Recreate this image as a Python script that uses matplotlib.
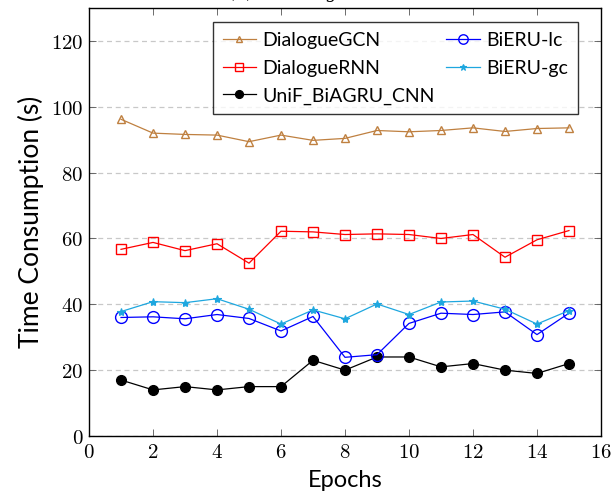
import matplotlib
matplotlib.use("Agg")
import matplotlib.pyplot as plt
from matplotlib.ticker import FuncFormatter, MultipleLocator

plt.rcParams['mathtext.fontset'] = 'cm'

epochs = list(range(1, 16))
dialogue_gcn = [96.2, 92.0, 91.6, 91.4, 89.4, 91.4, 89.8, 90.4, 92.8, 92.4, 92.8, 93.6, 92.5, 93.4, 93.6]
dialogue_rnn = [56.7, 58.8, 56.3, 58.4, 52.5, 62.2, 62.0, 61.2, 61.4, 61.2, 60.0, 61.2, 54.3, 59.6, 62.4]
unif_biagru = [17.0, 14.0, 15.0, 14.0, 15.0, 15.0, 23.0, 20.0, 24.0, 24.0, 21.0, 22.0, 20.0, 19.0, 22.0]
bieru_lc = [36.0, 36.2, 35.6, 36.9, 35.7, 31.9, 36.3, 23.9, 24.7, 34.2, 37.3, 36.9, 37.7, 30.8, 37.3]
bieru_gc = [37.8, 40.8, 40.5, 41.7, 38.5, 34.0, 38.3, 35.6, 40.1, 36.9, 40.7, 41.0, 38.5, 34.0, 38.1]

fig = plt.figure(figsize=(6.11, 4.95), dpi=100)
ax = fig.add_axes([0.1457, 0.1192, 0.8379, 0.8646])

ax.plot(epochs, dialogue_gcn, color='#bf8040', marker='^', mfc='none', ms=6, mew=1, lw=0.9,
        label='DialogueGCN')
ax.plot(epochs, dialogue_rnn, color='#ff0000', marker='s', mfc='none', ms=6.8, mew=1, lw=0.9,
        label='DialogueRNN')
ax.plot(epochs, unif_biagru, color='black', marker='o', ms=7, lw=0.9,
        label='UniF_BiAGRU_CNN')
ax.plot(epochs, bieru_lc, color='#0000ff', marker='o', mfc='none', ms=8.5, mew=1, lw=0.9,
        label='BiERU-lc')
ax.plot(epochs, bieru_gc, color='#1ea7df', marker='*', ms=6, mew=0.8, lw=0.9,
        label='BiERU-gc')

ax.set_xlim(0, 16)
ax.set_ylim(0, 130)
ax.xaxis.set_major_locator(MultipleLocator(2))
ax.yaxis.set_major_locator(MultipleLocator(20))
fmt = FuncFormatter(lambda v, p: f'${v:g}$')
ax.xaxis.set_major_formatter(fmt)
ax.yaxis.set_major_formatter(fmt)
ax.tick_params(direction='in', top=True, right=True, length=5, width=0.6,
               color='#555555', labelsize=15, pad=4)
ax.grid(axis='y', linestyle=(0, (4, 3)), color='#c8c8c8', lw=0.9)
ax.set_axisbelow(True)
for s in ax.spines.values():
    s.set_linewidth(1)

ax.set_xlabel('Epochs', fontsize=17, family='Lato', labelpad=6)
ax.set_ylabel('Time Consumption (s)', fontsize=19, family='Lato', labelpad=5)

leg = ax.legend(ncol=2, loc='upper right', bbox_to_anchor=(0.955, 0.967),
                borderaxespad=0,
                prop={'family': 'Lato', 'size': 14}, frameon=True,
                fancybox=False, edgecolor='black', handlelength=1.7,
                columnspacing=0.6, labelspacing=0.55, borderpad=0.5, handletextpad=0.35,
                markerscale=0.8)
leg.get_frame().set_linewidth(1)

fig.text(0.373, 1.004, '(a) Training time', fontsize=13, family='DejaVu Serif',
         ha='left', va='baseline')

fig.savefig('out.png', dpi=100)
